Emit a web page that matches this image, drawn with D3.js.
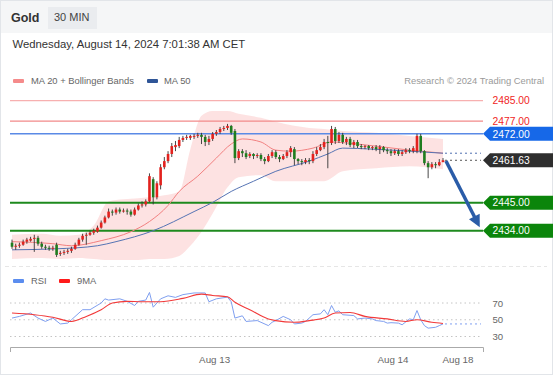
<!DOCTYPE html>
<html><head><meta charset="utf-8">
<script src="https://cdn.jsdelivr.net/npm/d3@7"></script>
<style>body{margin:0;background:#fff;}svg{display:block;font-family:"Liberation Sans",Arial,Helvetica,sans-serif;}</style>
</head><body><svg id="c" width="553" height="375"></svg>
<script>
// ---------- DATA ----------
const title = "Gold";
const interval = "30 MIN";
const dateText = "Wednesday, August 14, 2024 7:01:38 AM CET";

const open = [
2429.3,2427.7,2428.1,2428.5,2429.7,2430.1,2430.8,2431.2,2428.9,2427.7,
2427.3,2426.9,2428.5,2424.9,2425.3,2425.7,2426.1,2426.9,2428.5,2430.5,
2432.0,2432.4,2433.2,2433.6,2435.2,2437.2,2439.2,2441.5,2441.1,2442.3,
2441.5,2441.9,2441.5,2440.3,2442.3,2443.9,2444.3,2445.5,2454.2,2447.1,
2451.8,2458.9,2461.3,2464.1,2466.8,2467.2,2469.6,2470.4,2470.4,2470.8,
2471.2,2471.6,2470.8,2468.8,2470.0,2472.0,2472.7,2473.9,2474.3,2475.1,
2473.1,2462.5,2465.2,2464.4,2463.3,2464.1,2463.3,2463.7,2462.1,2461.3,
2463.3,2464.8,2462.9,2462.1,2463.3,2464.8,2466.0,2462.1,2461.3,2460.9,
2461.7,2461.3,2464.1,2465.6,2466.8,2468.8,2468.4,2473.9,2469.2,2471.6,
2468.8,2470.0,2467.6,2468.8,2467.2,2466.8,2467.2,2466.4,2466.8,2466.0,
2466.8,2465.6,2465.2,2464.4,2465.2,2464.1,2464.8,2465.6,2465.2,2465.2,
2471.2,2465.2,2460.5,2458.9,2460.1,2459.7,2460.9];
const high = [
2430.5,2428.9,2429.3,2430.5,2431.2,2431.6,2432.4,2432.0,2429.7,2428.5,
2428.1,2428.1,2429.3,2426.1,2426.5,2426.9,2427.7,2429.3,2431.2,2432.8,
2433.2,2434.0,2434.8,2436.0,2438.0,2439.9,2442.7,2442.3,2443.1,2443.1,
2442.7,2442.7,2442.3,2443.1,2444.7,2445.5,2446.3,2456.5,2455.0,2453.4,
2460.1,2462.9,2465.2,2468.4,2469.2,2470.8,2471.2,2471.6,2471.6,2472.0,
2472.4,2472.4,2471.6,2471.2,2472.7,2473.5,2474.7,2475.1,2475.9,2475.5,
2473.9,2466.0,2466.0,2465.6,2464.8,2464.4,2464.4,2464.4,2462.9,2464.1,
2465.6,2465.6,2463.7,2464.1,2465.6,2467.2,2466.8,2462.5,2462.1,2462.5,
2462.5,2465.2,2466.8,2468.0,2470.0,2471.2,2475.1,2474.7,2472.7,2472.4,
2470.8,2470.8,2469.6,2469.6,2468.0,2467.6,2467.6,2467.2,2467.6,2467.6,
2467.2,2466.4,2466.0,2466.0,2466.0,2465.6,2466.4,2466.4,2467.2,2472.0,
2472.0,2465.6,2461.3,2460.9,2460.9,2462.1,2462.5];
const low = [
2426.9,2426.5,2427.3,2428.1,2428.9,2429.7,2425.7,2428.1,2426.9,2426.5,
2426.1,2426.1,2423.7,2424.1,2424.5,2424.9,2425.3,2426.5,2428.1,2429.7,
2428.5,2432.0,2432.4,2433.2,2434.8,2436.8,2438.8,2439.9,2440.3,2440.7,
2441.1,2440.3,2439.5,2439.9,2441.9,2443.1,2443.5,2445.1,2444.3,2446.3,
2450.2,2458.1,2460.5,2462.9,2465.2,2466.4,2468.8,2469.6,2469.6,2470.0,
2470.4,2468.0,2467.2,2467.6,2469.2,2471.2,2472.0,2473.1,2473.5,2471.6,
2460.5,2461.7,2462.9,2462.1,2462.5,2462.1,2462.5,2461.3,2460.1,2460.9,
2462.5,2462.1,2460.9,2461.7,2462.5,2462.9,2459.7,2460.1,2459.7,2460.1,
2460.1,2460.5,2463.3,2465.2,2466.0,2458.5,2467.6,2468.0,2468.4,2468.0,
2467.6,2466.8,2466.4,2466.4,2466.0,2466.0,2465.6,2465.6,2465.2,2464.1,
2464.8,2464.1,2463.3,2463.7,2463.3,2463.3,2464.1,2464.4,2464.4,2464.4,
2464.4,2459.7,2454.6,2458.1,2458.5,2459.3,2460.9];
const close = [
2427.7,2428.1,2428.5,2429.7,2430.5,2430.8,2431.2,2428.9,2427.7,2427.3,
2426.9,2427.3,2424.5,2425.3,2425.7,2426.1,2426.9,2428.5,2430.5,2432.0,
2432.4,2433.2,2434.0,2435.2,2437.2,2439.2,2441.5,2441.1,2442.3,2441.5,
2441.9,2441.5,2440.3,2442.3,2443.9,2444.3,2445.5,2455.4,2447.1,2452.6,
2458.9,2461.3,2464.1,2467.2,2467.6,2469.6,2470.4,2470.8,2471.2,2471.2,
2471.6,2470.8,2468.8,2470.0,2472.0,2472.7,2473.9,2474.3,2475.1,2472.4,
2462.5,2465.2,2464.4,2462.9,2464.1,2463.3,2463.7,2462.1,2461.3,2463.3,
2464.8,2462.9,2462.1,2463.3,2464.8,2466.4,2462.1,2461.3,2460.9,2461.7,
2461.3,2464.1,2465.6,2466.8,2468.8,2468.4,2473.9,2469.2,2471.6,2468.8,
2470.0,2467.6,2468.8,2467.2,2466.8,2467.2,2466.4,2466.8,2466.0,2466.8,
2465.6,2465.2,2464.4,2465.2,2464.1,2464.8,2465.6,2465.2,2466.4,2471.2,
2465.2,2460.5,2458.9,2460.1,2459.7,2460.9,2461.63];

const ma20Idx = [0,11,16,24,32,37,42,45,50,55,59,62,67,71,75,81,86,93,107,116];
const ma20Val = [2429.7,2428.9,2428.1,2430.1,2433.6,2437.6,2443.9,2449.4,2455.4,2462.5,2468.0,2470.0,2468.8,2465.6,2465.2,2466.4,2468.8,2468.0,2465.6,2464.4];
const ma50Idx = [0,12,23,28,38,49,54,59,65,71,80,85,89,97,107,116];
const ma50Val = [2426.5,2426.9,2428.1,2429.7,2434.0,2441.5,2445.1,2449.4,2453.4,2457.3,2461.3,2464.1,2466.4,2466.0,2465.2,2464.4];
const bandIdx = [0,8,13,18,22,26,30,34,37,41,45,48,51,54,58,61,67,71,80,84,89,98,107,116];
const bandUp  = [2432.4,2432.8,2432.0,2432.4,2436.0,2445.5,2446.3,2446.7,2447.1,2447.9,2449.4,2466.0,2479.1,2481.0,2481.0,2479.9,2478.3,2476.7,2474.3,2473.9,2473.1,2472.4,2471.2,2470.0];
const bandLow = [2422.9,2423.3,2422.9,2423.3,2422.9,2422.5,2422.5,2422.5,2422.9,2422.9,2424.1,2428.1,2433.6,2440.7,2451.0,2455.0,2455.8,2453.4,2453.4,2453.4,2457.3,2458.5,2459.3,2458.1];

const rsiIdx = [0,2,5,7,9,11,13,15,16,19,21,24,25,26,29,31,33,34,36,37,38,40,42,44,46,49,52,53,55,58,59,60,62,63,66,69,70,71,73,75,76,78,79,81,83,84,85,86,87,88,89,92,93,95,97,98,100,101,102,104,105,107,108,109,110,111,112,114,115,116];
const rsiVal = [52,54,58,52,48,52,45,46,50,62,62,70,75,73.5,75,72,67,72,73.5,82.6,65,75,78.6,76.7,80,82,82,71.5,75,77,71.5,52,54.7,48,49,43,47,49,54,50,45,46,48,56,57,62,56,67,59,60.6,56,55,51,52,51,49,48,46,46.5,46,44,51,50,61,50,43,40,41,43,45];
const rsiMaIdx = [0,6,11,16,20,24,27,31,35,40,46,51,54,58,60,64,69,71,76,80,84,87,91,95,101,106,109,113,116];
const rsiMaVal = [58,56,53,48,54,62,70,72,71.5,71.5,75.5,80.6,79,77.4,70.8,62,51,49,47,49,52,58,58.6,54,51,48,50,47,45.6];
const rsiLevels = [70,50,30];

const resistLevels = [2485, 2477];
const pivotLevel = 2472;
const supportLevels = [2445, 2434];
const lastPrice = 2461.63;
const arrowFrom = [116.8, 2461.35];
const arrowTo = [125.9, 2435.4];

const xTickLabels = ["Aug 13","Aug 14","Aug 18"];
const xTickIdx = [54.4, 102.4, 119.9];

// ---------- DRAW ----------
const W = 553, H = 375;
const svg = d3.select("#c");
svg.append("rect").attr("width",W).attr("height",H).attr("fill","#fff");
svg.append("rect").attr("width",W).attr("height",33).attr("fill","#f5f6f7");
svg.append("rect").attr("x",0.5).attr("y",0.5).attr("width",W-1).attr("height",H-1)
  .attr("fill","none").attr("stroke","#e2e5e9");

// header
svg.append("text").attr("x",11).attr("y",21.5).attr("font-size",12.5).attr("font-weight","bold")
  .attr("fill","#333").text(title);
svg.append("rect").attr("x",48).attr("y",7).attr("width",49).attr("height",22).attr("fill","#eaecef");
svg.append("text").attr("x",54).attr("y",21).attr("font-size",11).attr("fill","#444").text(interval);
svg.append("text").attr("x",12.5).attr("y",48).attr("font-size",11.3).attr("fill","#333").text(dateText);

// legends
const lg = svg.append("g").attr("font-size",9.4).attr("fill","#666");
lg.append("rect").attr("x",13).attr("y",79).attr("width",11).attr("height",4).attr("rx",1).attr("fill","#f58b8b");
lg.append("text").attr("x",31).attr("y",84).text("MA 20 + Bollinger Bands");
lg.append("rect").attr("x",147).attr("y",79).attr("width",11).attr("height",4).attr("rx",1).attr("fill","#2f5597");
lg.append("text").attr("x",164).attr("y",84).text("MA 50");
lg.append("text").attr("x",544).attr("y",84).attr("text-anchor","end").attr("fill","#9a9a9a")
  .text("Research \u00A9 2024 Trading Central");
lg.append("rect").attr("x",13).attr("y",279).attr("width",11).attr("height",4).attr("rx",1).attr("fill","#5b8def");
lg.append("text").attr("x",31).attr("y",284).text("RSI");
lg.append("rect").attr("x",59).attr("y",279).attr("width",11).attr("height",4).attr("rx",1).attr("fill","#ff1a1a");
lg.append("text").attr("x",77).attr("y",284).text("9MA");

// scales
const x = d3.scaleLinear().domain([0,116]).range([12,443]);
const y = d3.scaleLinear().domain([2434,2485]).range([230.7,100.7]);
const yr = d3.scaleLinear().domain([30,70]).range([336.5,303]);
const xL = 10, xR = 483;

// bollinger band
const band = bandIdx.map((d,i)=>({i:d,u:bandUp[i],l:bandLow[i]}));
svg.append("path").datum(band)
  .attr("d", d3.area().x(d=>x(d.i)).y0(d=>y(d.l)).y1(d=>y(d.u)).curve(d3.curveMonotoneX))
  .attr("fill","rgba(245,110,110,0.2)");

// separator
svg.append("line").attr("x1",5).attr("x2",547).attr("y1",266.5).attr("y2",266.5)
  .attr("stroke","#e6e6e6").attr("stroke-dasharray","4,3");

// horizontal levels
resistLevels.forEach((v,k)=>{
  svg.append("line").attr("x1",xL).attr("x2",xR).attr("y1",y(v)).attr("y2",y(v))
    .attr("stroke", k===0 ? "#f7b0b0" : "#f28a8a").attr("stroke-width",1.2);
});
svg.append("line").attr("x1",xL).attr("x2",xR).attr("y1",y(pivotLevel)).attr("y2",y(pivotLevel))
  .attr("stroke","#5a8ae6").attr("stroke-width",1.5);
supportLevels.forEach(v=>{
  svg.append("line").attr("x1",xL).attr("x2",xR).attr("y1",y(v)).attr("y2",y(v))
    .attr("stroke","#1e8a1e").attr("stroke-width",2);
});

// MAs
const line = d3.line().curve(d3.curveMonotoneX);
svg.append("path").attr("d", line(ma20Idx.map((d,i)=>[x(d),y(ma20Val[i])])))
  .attr("fill","none").attr("stroke","#f28080").attr("stroke-width",1);
svg.append("path").attr("d", line(ma50Idx.map((d,i)=>[x(d),y(ma50Val[i])])))
  .attr("fill","none").attr("stroke","#5674b4").attr("stroke-width",1);
// extensions
const lastMa50 = ma50Val[ma50Val.length-1];
svg.append("line").attr("x1",x(116)+2).attr("x2",481).attr("y1",y(lastMa50)).attr("y2",y(lastMa50))
  .attr("stroke","#4f6fb0").attr("stroke-dasharray","2,3");
svg.append("line").attr("x1",x(116)+2).attr("x2",481).attr("y1",y(lastPrice)).attr("y2",y(lastPrice))
  .attr("stroke","#555").attr("stroke-dasharray","2,3");

// candles
const cg = svg.append("g");
close.forEach((c,i)=>{
  const o = open[i], up = c >= o;
  const col = up ? "#e3221e" : "#1f7d1f";
  cg.append("line").attr("x1",x(i)).attr("x2",x(i)).attr("y1",y(high[i])).attr("y2",y(low[i]))
    .attr("stroke","#333").attr("stroke-width",0.9);
  const yt = y(Math.max(o,c)), yb = y(Math.min(o,c));
  cg.append("rect").attr("x",x(i)-1.3).attr("width",2.6)
    .attr("y",yt).attr("height",Math.max(1,yb-yt)).attr("fill",col);
});

// arrow
{
  const x1 = x(arrowFrom[0]), y1 = y(arrowFrom[1]), x2 = x(arrowTo[0]), y2 = y(arrowTo[1]);
  const dx = x2-x1, dy = y2-y1, len = Math.hypot(dx,dy), ux = dx/len, uy = dy/len;
  const hl = 12, hw = 6;
  const bx = x2-ux*hl, by = y2-uy*hl;
  svg.append("line").attr("x1",x1).attr("y1",y1).attr("x2",bx+ux*2).attr("y2",by+uy*2)
    .attr("stroke","#2a5ca8").attr("stroke-width",3.5);
  svg.append("path").attr("d",`M${x2},${y2}L${bx-uy*hw},${by+ux*hw}L${bx+uy*hw},${by-ux*hw}Z`)
    .attr("fill","#2a5ca8");
}

// price labels
function tag(v, fill){
  const yc = y(v);
  svg.append("path").attr("d",`M${xR},${yc}L${xR+7},${yc-7}L${W},${yc-7}L${W},${yc+7}L${xR+7},${yc+7}Z`)
    .attr("fill",fill);
  svg.append("text").attr("x",492.5).attr("y",yc+3.7).attr("font-size",10.3).attr("fill","#fff").text(v.toFixed(2));
}
resistLevels.forEach(v=>{
  svg.append("text").attr("x",492.5).attr("y",y(v)+3.7).attr("font-size",10.3).attr("fill","#f01e1e").text(v.toFixed(2));
});
tag(pivotLevel,"#1668e8");
tag(lastPrice,"#2e2e2e");
supportLevels.forEach(v=>tag(v,"#0b850b"));

// RSI pane
rsiLevels.forEach(v=>{
  svg.append("line").attr("x1",xL).attr("x2",481).attr("y1",yr(v)).attr("y2",yr(v))
    .attr("stroke","#c4c4c4").attr("stroke-dasharray","1.5,3");
});
const ra = svg.append("g").attr("transform",`translate(${xR},0)`)
  .call(d3.axisRight(yr).tickValues(rsiLevels).tickSize(0).tickPadding(9.5));
ra.select(".domain").remove();
ra.selectAll("text").attr("font-size",9.6).attr("fill","#666").attr("font-family",null);

const lin = d3.line();
svg.append("path").attr("d", lin(rsiIdx.map((d,i)=>[x(d),yr(rsiVal[i])])))
  .attr("fill","none").attr("stroke","#7f9ff0").attr("stroke-width",1);
svg.append("path").attr("d", line(rsiMaIdx.map((d,i)=>[x(d),yr(rsiMaVal[i])])))
  .attr("fill","none").attr("stroke","#f23a3a").attr("stroke-width",1.1);
const lastRsi = rsiVal[rsiVal.length-1];
svg.append("line").attr("x1",x(116)+2).attr("x2",481).attr("y1",yr(lastRsi)).attr("y2",yr(lastRsi))
  .attr("stroke","#7f9ff0").attr("stroke-dasharray","2,3");

// x axis
const xa = x.copy().domain([x.invert(xL), x.invert(xR)]).range([xL,xR]);
const ax = svg.append("g").attr("transform","translate(0,347)")
  .call(d3.axisBottom(xa).tickValues(xTickIdx).tickFormat((d,i)=>xTickLabels[i]).tickSize(0).tickSizeOuter(5).tickPadding(9));
ax.select(".domain").attr("stroke","#aaa");
ax.selectAll("text").attr("font-size",9.8).attr("fill","#666").attr("font-family",null);
</script>
</body></html>
